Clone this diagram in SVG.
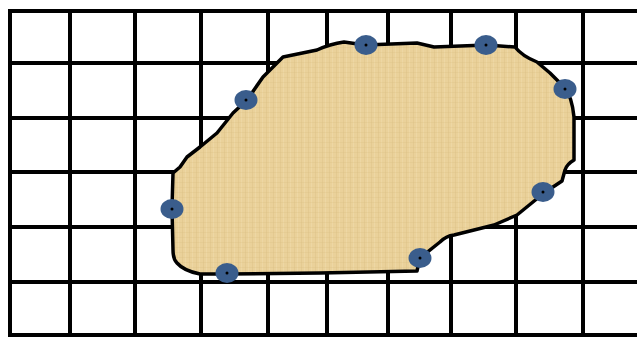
<svg xmlns="http://www.w3.org/2000/svg" width="637" height="338" viewBox="0 0 637 338">
  <style>
    .grid line { stroke: #000; stroke-width: 4; }
    .fill { fill: #ead19a; }
    .tex { fill: url(#papyrus); }
    .outline { fill: none; stroke: #000; stroke-width: 3.5; stroke-linejoin: round; }
    .dot ellipse { fill: #3a5d8c; }
    .dot circle { fill: #000; }
  </style>
  <defs>
    <pattern id="papyrus" width="7" height="5" patternUnits="userSpaceOnUse">
      <rect x="0" y="0" width="1" height="5" fill="#d9bd80" opacity="0.35"/>
      <rect x="3" y="0" width="1" height="5" fill="#f3e1b5" opacity="0.4"/>
      <rect x="0" y="2" width="7" height="1" fill="#d8bc7f" opacity="0.25"/>
    </pattern>
    <path id="shape" d="M317,50 Q330,44 344,42 L365,45 L417,43 L434,47 L487,45 L515,47 Q522,56 537,62 L550,73 L565,88 Q572,97 574,117 L574,160 Q567,164 565,170 L562,181 L544,193 L517,215 L494,225 L454,235 Q446,236 440,242 L420,258 L417,271 L320,273 L227,274 L200,274 Q184,271 177,263 Q173,259 173,250 L172,208 L173,173 L180,167 L187,157 L200,147 L217,133 L233,113 L247,100 L263,77 L272,68 L283,57 Z"/>
  </defs>
  <rect width="637" height="338" fill="#fff"/>
  <g id="grid" class="grid">
    <line x1="10" y1="11" x2="637" y2="11"/>
    <line x1="10" y1="63" x2="637" y2="63"/>
    <line x1="10" y1="118" x2="637" y2="118"/>
    <line x1="10" y1="172" x2="637" y2="172"/>
    <line x1="10" y1="227" x2="637" y2="227"/>
    <line x1="10" y1="282" x2="637" y2="282"/>
    <line x1="10" y1="335" x2="637" y2="335"/>
    <line x1="10" y1="9" x2="10" y2="337"/>
    <line x1="70" y1="11" x2="70" y2="335"/>
    <line x1="135" y1="11" x2="135" y2="335"/>
    <line x1="201" y1="11" x2="201" y2="335"/>
    <line x1="268" y1="11" x2="268" y2="335"/>
    <line x1="327" y1="11" x2="327" y2="335"/>
    <line x1="388" y1="11" x2="388" y2="335"/>
    <line x1="451" y1="11" x2="451" y2="335"/>
    <line x1="516" y1="11" x2="516" y2="335"/>
    <line x1="583" y1="11" x2="583" y2="335"/>
  </g>
  <g id="region">
    <use href="#shape" class="fill"/>
    <use href="#shape" class="tex"/>
    <use href="#shape" class="outline"/>
  </g>
  <g id="point1" class="dot"><ellipse cx="246" cy="100" rx="11.5" ry="10"/><circle cx="246" cy="100" r="1.5"/></g>
  <g id="point2" class="dot"><ellipse cx="366" cy="45" rx="11.5" ry="10"/><circle cx="366" cy="45" r="1.5"/></g>
  <g id="point3" class="dot"><ellipse cx="486" cy="45" rx="11.5" ry="10"/><circle cx="486" cy="45" r="1.5"/></g>
  <g id="point4" class="dot"><ellipse cx="565" cy="89" rx="11.5" ry="10"/><circle cx="565" cy="89" r="1.5"/></g>
  <g id="point5" class="dot"><ellipse cx="543" cy="192" rx="11.5" ry="10"/><circle cx="543" cy="192" r="1.5"/></g>
  <g id="point6" class="dot"><ellipse cx="420" cy="258" rx="11.5" ry="10"/><circle cx="420" cy="258" r="1.5"/></g>
  <g id="point7" class="dot"><ellipse cx="227" cy="273" rx="11.5" ry="10"/><circle cx="227" cy="273" r="1.5"/></g>
  <g id="point8" class="dot"><ellipse cx="172" cy="209" rx="11.5" ry="10"/><circle cx="172" cy="209" r="1.5"/></g>
</svg>
